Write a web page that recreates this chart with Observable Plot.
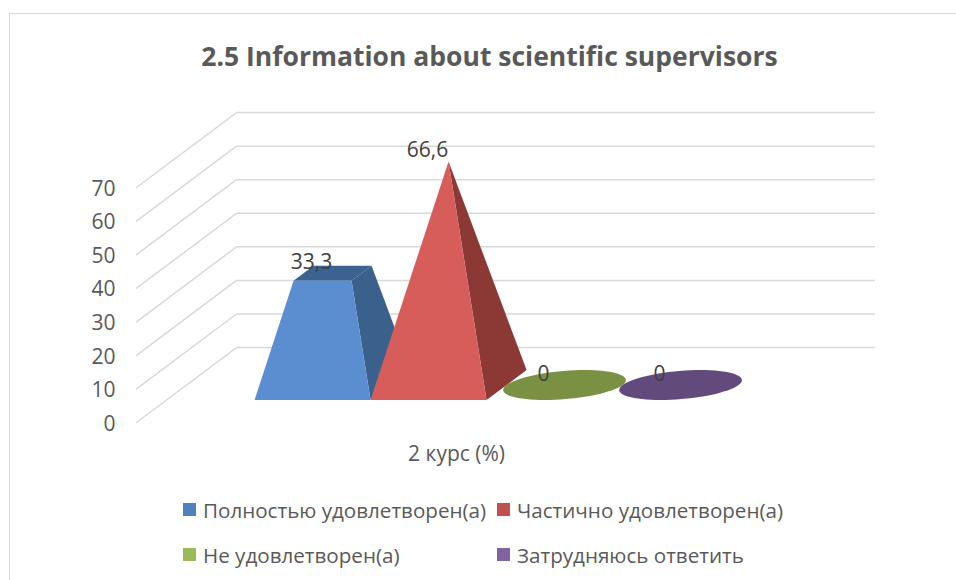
<!DOCTYPE html>
<html><head><meta charset="utf-8">
<script src="https://cdn.jsdelivr.net/npm/d3@7"></script>
<script src="https://cdn.jsdelivr.net/npm/@observablehq/plot@0.6"></script>
<style>
html,body{margin:0;padding:0;background:#fff;width:956px;height:580px;overflow:hidden;font-family:"Open Sans",sans-serif}
#page{position:relative;width:956px;height:580px;overflow:hidden}
#frame{position:absolute;left:9px;top:13px;width:960px;height:600px;border:1.5px solid #d9d9d9;box-sizing:border-box}
#title{position:absolute;left:0;width:979px;top:38px;height:36px;line-height:36px;text-align:center;font-size:26.5px;font-weight:700;color:#595959;white-space:nowrap}
#chart{position:absolute;left:0;top:90px}
#legend{position:absolute;left:183px;top:487px;display:grid;grid-template-columns:314px 314px;grid-auto-rows:45px;color:#595959;font-size:20.6px}
#legend div{display:flex;align-items:center;white-space:nowrap;height:45px}
#legend i{display:inline-block;width:13px;height:13px;margin-right:7px;flex:none}
</style></head><body>
<div id="page"><div id="frame"></div><div id="title"></div><div id="chart"></div><div id="legend"></div></div>
<script>
const titleText = "2.5 Information about scientific supervisors";
const categoryLabel = "2 курс (%)";
const series = ["Полностью удовлетворен(а)", "Частично удовлетворен(а)", "Не удовлетворен(а)", "Затрудняюсь ответить"];
const values = [33.3, 66.6, 0, 0];
const valueLabels = ["33,3", "66,6", "0", "0"];
const yTicks = [0, 10, 20, 30, 40, 50, 60, 70];
const legendColors = ["#4f81bd", "#c0504d", "#9bbb59", "#8064a2"];
const frontColors = ["#5b8ed1", "#d65d5a", "#7a9144", "#624b7c"];
const sideColors = ["#3a608c", "#8c3936", "#5c6e33", "#4a3a5e"];
const topColors = ["#3c6291", "#8c3936", "#7a9144", "#624b7c"];

// oblique projection of the chart's 3D box onto the two plot scales
const depthX = 0.862, depthY = 22.32;
const floorStart = -0.759, floorEnd = 4.741;
const depthFront = 0.3, depthBack = 0.7;
const P = (cat, depth, v) => ({u: cat + depth * depthX, w: v + depth * depthY});
const peak = d3.max(values);

// pyramid cross-section at the bar's value
const at = (i, cat, depth, t) => P(cat + (i + 0.5 - cat) * t, depth + (0.5 - depth) * t, peak * t);

const grid = yTicks.flatMap(v => [
  {...P(floorStart, 0, v), v},
  {...P(floorStart, 1, v), v},
  {...P(floorEnd, 1, v), v}
]);

const faces = [];
function face(pts, fill){ const id = faces.length ? faces[faces.length-1].id + 1 : 0; pts.forEach(p => faces.push({...p, id, fill})); }
values.forEach((v, i) => {
  if (v > 0) {
    const t = v / peak;
    const bR = at(i, i + 1, depthFront, 0), bB = at(i, i + 1, depthBack, 0), bL = at(i, i, depthFront, 0);
    const tL = at(i, i, depthFront, t), tR = at(i, i + 1, depthFront, t), tB = at(i, i + 1, depthBack, t), tK = at(i, i, depthBack, t);
    face([bR, bB, tB, tR], sideColors[i]);
    if (t < 1) face([tL, tR, tB, tK], topColors[i]);
    face([bL, bR, tR, tL], frontColors[i]);
  } else {
    face(d3.range(0, 72).map(k => {
      const a = k / 72 * 2 * Math.PI;
      return P(i + 0.5 + 0.5 * Math.cos(a), 0.5 + 0.2 * Math.sin(a), v);
    }), frontColors[i]);
  }
});

const labels = values.map((v, i) => ({...P(i + 0.5, 0.5, v), text: valueLabels[i]}));

const FONT = '"Open Sans", sans-serif';
const plot = Plot.plot({
  width: 956, height: 385,
  marginLeft: 120, marginRight: 0, marginTop: 0, marginBottom: 0,
  style: {fontFamily: FONT, fontSize: "21px", background: "transparent", overflow: "visible"},
  x: {domain: [floorStart, floorEnd + depthX], range: [136, 874], axis: null},
  y: {domain: [0, 70], range: [332, 97], axis: null},
  marks: [
    Plot.line(grid, {x: "u", y: "w", z: "v", stroke: "#d9d9d9", strokeWidth: 1.5}),
    Plot.line(faces, {x: "u", y: "w", z: "id", fill: "fill", stroke: "none", curve: "linear-closed"}),
    Plot.axisY({ticks: yTicks, tickSize: 0, tickPadding: 5, label: null, tickFormat: d => String(d), fontSize: 21, fill: "#595959", dy: 1.5}),
    Plot.text(labels, {x: "u", y: "w", text: "text", dx: -21, dy: -11, fill: "#404040", fontSize: 21}),
    Plot.text([categoryLabel], {x: () => P(2, 0, 0).u, y: () => 0, dy: 32, fill: "#595959", fontSize: 21})
  ]
});
document.getElementById("chart").appendChild(plot);
document.getElementById("title").textContent = titleText;
const lg = document.getElementById("legend");
series.forEach((s, i) => {
  const d = document.createElement("div");
  const sw = document.createElement("i"); sw.style.background = legendColors[i];
  d.appendChild(sw); d.appendChild(document.createTextNode(s));
  lg.appendChild(d);
});
</script></body></html>
